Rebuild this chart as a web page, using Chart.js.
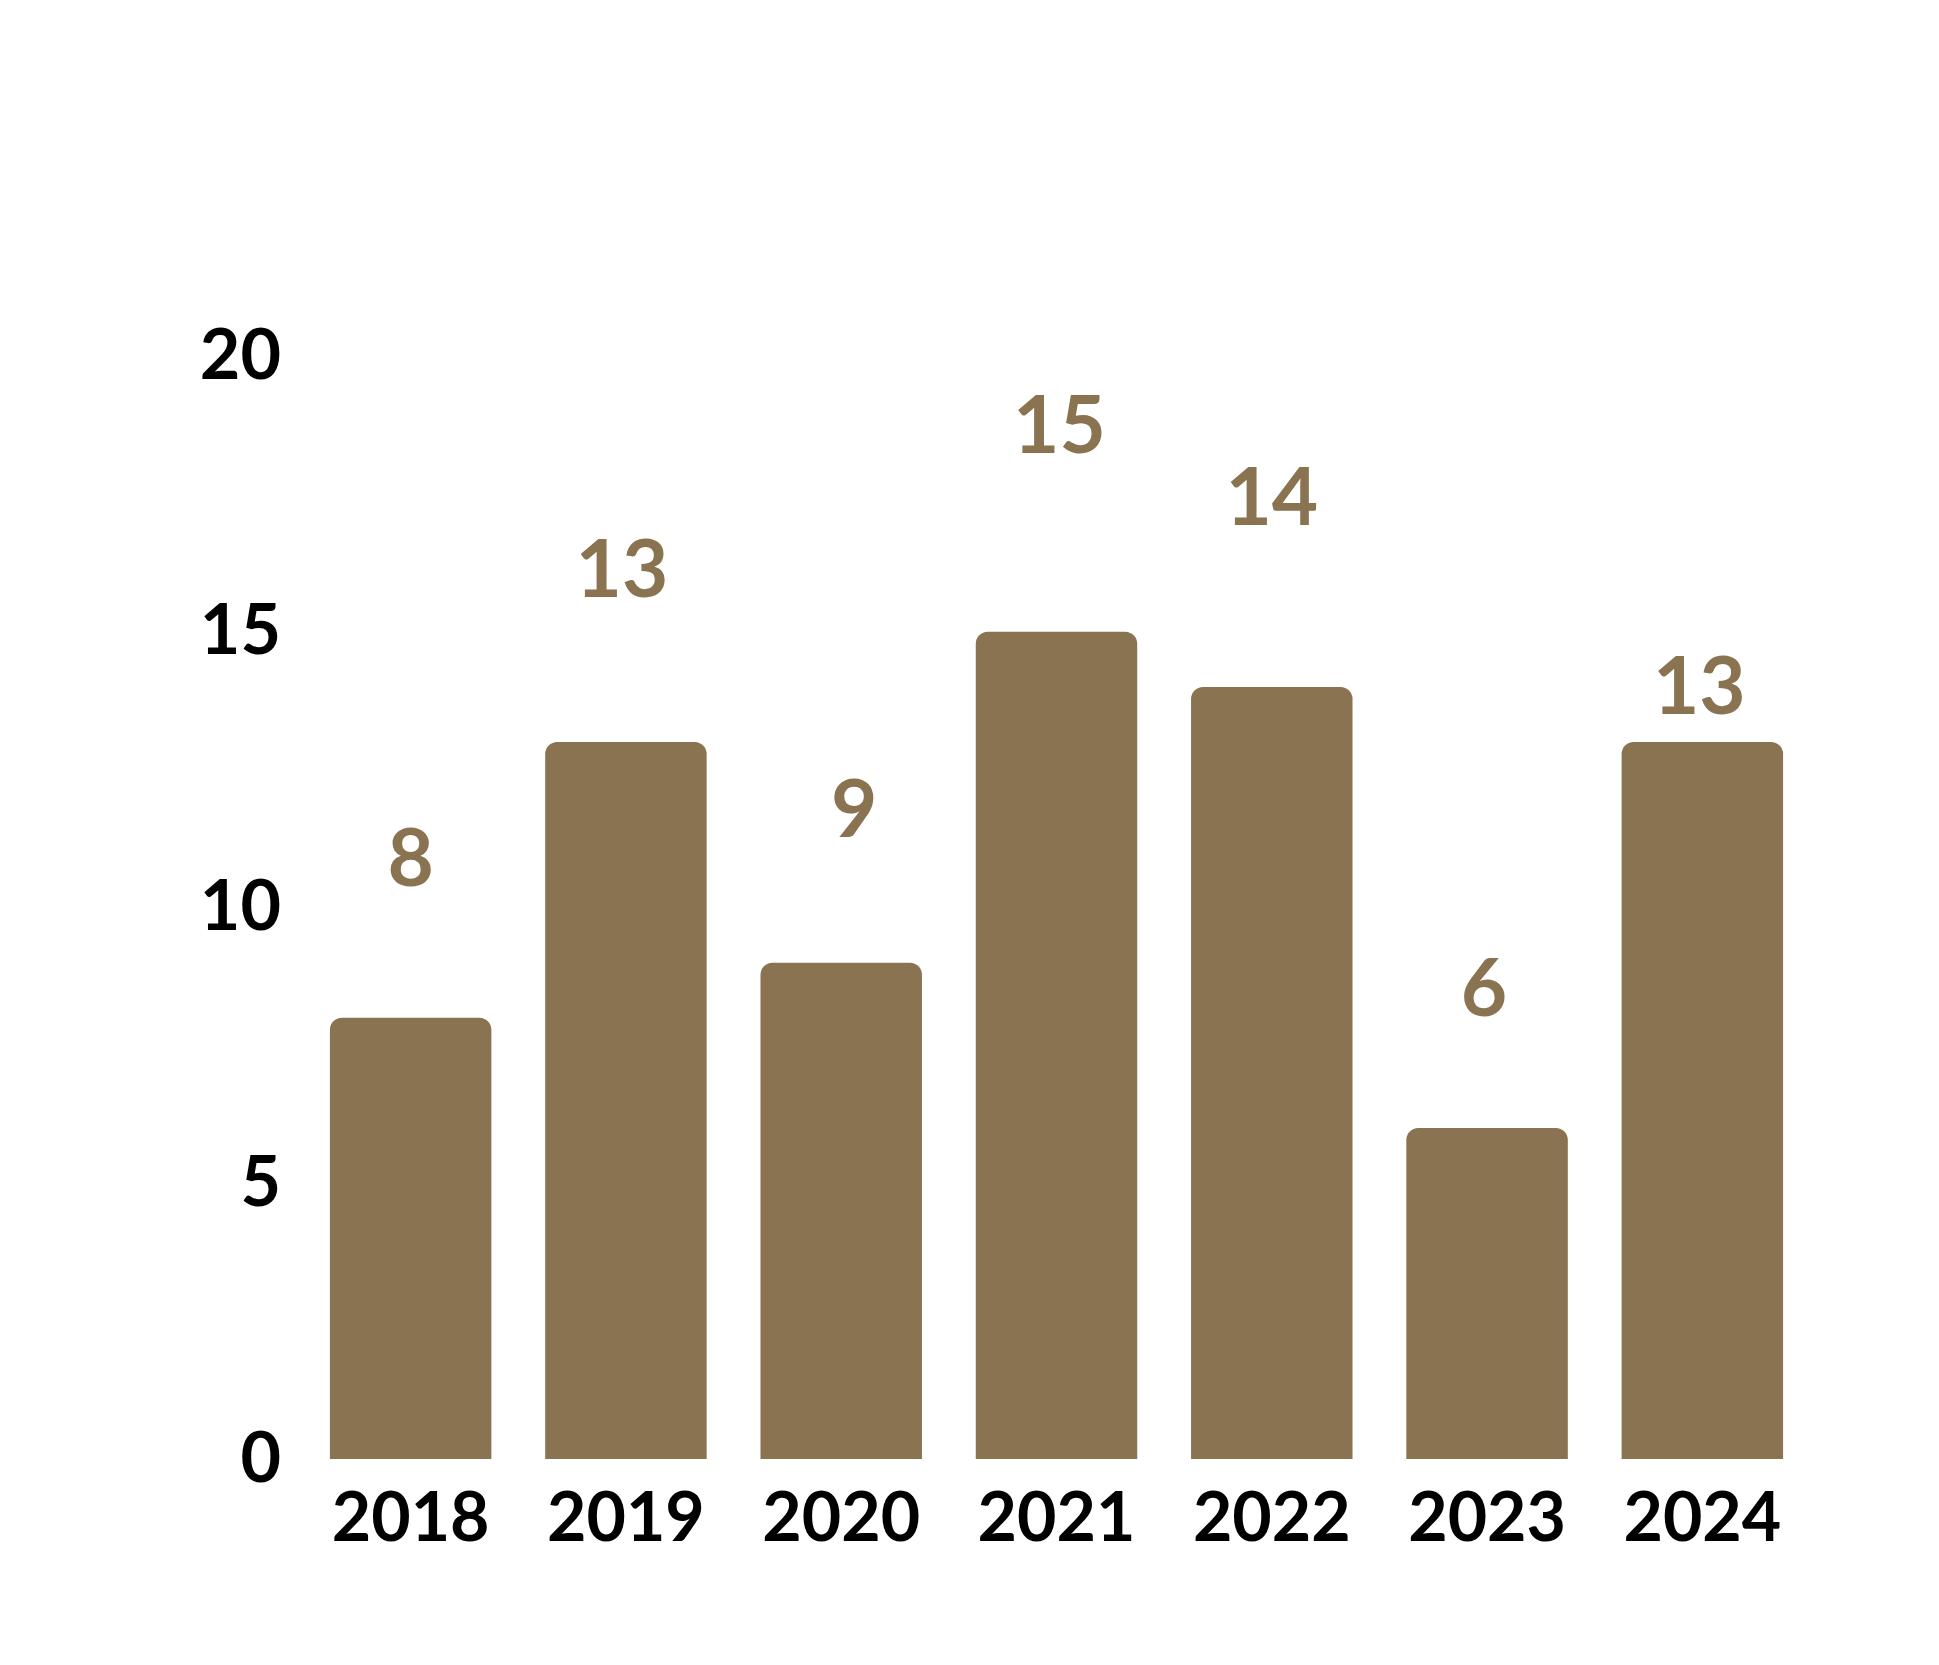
<!DOCTYPE html>
<html>
<head>
<meta charset="utf-8">
<script src="https://cdn.jsdelivr.net/npm/chart.js@4"></script>
<style>
  html, body { margin: 0; padding: 0; background: #ffffff; }
  #wrap { width: 1939px; height: 1665px; }
</style>
</head>
<body>
<div id="wrap"><canvas id="bar-chart"></canvas></div>
<script>
const years = ['2018', '2019', '2020', '2021', '2022', '2023', '2024']
const counts = [8, 13, 9, 15, 14, 6, 13]
const yTicks = [0, 5, 10, 15, 20]

const gold = '#8A7350'

// value labels float at uneven heights above the bars in the original
const labelPlugin = {
    id: 'valueLabels',
    afterDatasetsDraw(chart, args, opts) {
        const ctx = chart.ctx
        const meta = chart.getDatasetMeta(0)
        ctx.save()
        ctx.fillStyle = gold
        ctx.font = 'bold 80px Lato'
        ctx.textAlign = 'center'
        ctx.textBaseline = 'middle'
        meta.data.forEach((bar, i) => {
            ctx.fillText(String(counts[i]), bar.x + opts.shift[i], bar.y - opts.lift[i])
        })
        ctx.restore()
    }
}

new Chart(document.querySelector('#bar-chart').getContext('2d'), {
    type: 'bar',
    data: {
        labels: years,
        datasets: [{
            data: counts,
            backgroundColor: gold,
            borderRadius: { topLeft: 12, topRight: 12, bottomLeft: 0, bottomRight: 0 },
            borderSkipped: 'start',
            categoryPercentage: 1,
            barPercentage: 0.75
        }]
    },
    options: {
        responsive: true,
        maintainAspectRatio: false,
        animation: false,
        layout: { padding: { top: 356, right: 129, bottom: 86, left: 0 } },
        plugins: {
            legend: { display: false },
            tooltip: { enabled: false },
            valueLabels: {
                lift: [158, 171, 151, 205, 188, 138, 54],
                shift: [0, -4, 13, 3, 0, -3, -3]
            }
        },
        scales: {
            x: {
                grid: { display: false, drawTicks: false },
                border: { display: false },
                ticks: {
                    color: '#000',
                    padding: 19,
                    font: { family: 'Lato', size: 68, weight: 'bold' }
                },
                afterFit(scale) { scale.height = 120 }
            },
            y: {
                min: 0,
                max: 20,
                grid: { display: false, drawTicks: false },
                border: { display: false },
                afterBuildTicks(scale) { scale.ticks = yTicks.map(v => ({ value: v })) },
                ticks: {
                    color: '#000',
                    padding: 22,
                    font: { family: 'Lato', size: 70, weight: 'bold' }
                },
                afterFit(scale) { scale.width = 303 }
            }
        }
    },
    plugins: [labelPlugin]
})
</script>
</body>
</html>
